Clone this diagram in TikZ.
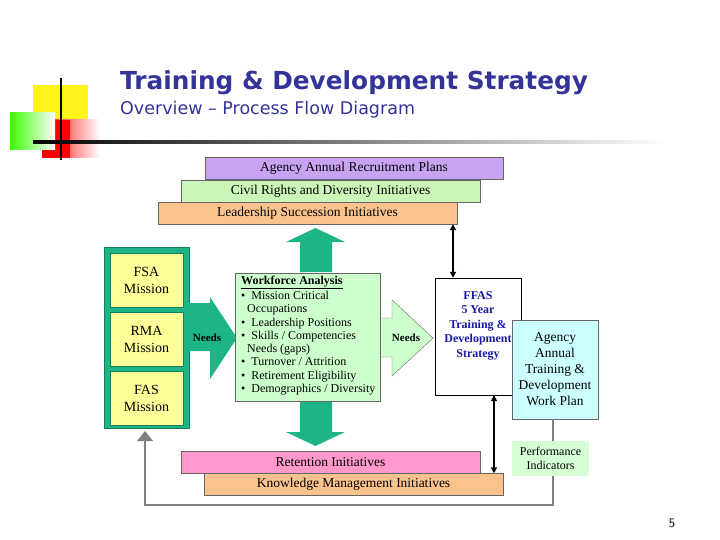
\documentclass[tikz,border=0pt]{standalone}
\usepackage{fontspec}
\setmainfont{Liberation Serif}
\newfontfamily\titlefont{DejaVu Sans}
\usetikzlibrary{arrows.meta,shapes.arrows}
\definecolor{tblue}{HTML}{333399}
\definecolor{purp}{HTML}{C9A3F2}
\definecolor{lgreen}{HTML}{CCF5B8}
\definecolor{orng}{HTML}{FAC38E}
\definecolor{teal}{HTML}{1DB585}
\definecolor{yel}{HTML}{FFFF99}
\definecolor{wfgreen}{HTML}{CCFFCC}
\definecolor{pnk}{HTML}{FF99CC}
\definecolor{cyn}{HTML}{CCFFFF}
\definecolor{dblue}{HTML}{1A1AA6}
\tikzset{
 bar/.style={draw=black!60,minimum height=22pt,inner sep=0pt,font=\fontsize{13.5}{14}\selectfont},
 miss/.style={fill=yel,draw=teal!70!black,minimum width=73pt,minimum height=54pt,align=center,font=\fontsize{14}{17}\selectfont},
 dbl/.style={{Triangle[length=6pt,width=6pt]}-{Triangle[length=6pt,width=6pt]},line width=1.5pt},
}
\begin{document}
\begin{tikzpicture}[x=1pt,y=-1pt]
\useasboundingbox (0,0) rectangle (720,540);
% logo
\fill[yellow!90!white] (33,85) rectangle (88,140);
\shade[left color=red,right color=white] (42,120) rectangle (100,158);
\fill[red] (42,120) rectangle (70,158);
\shade[left color=green!70!lime,right color=white] (10,113) rectangle (55,150);
\draw[line width=1.5pt] (61,78) -- (61,160);
\shade[left color=black,right color=white] (33,141) rectangle (665,143.5);
\node[anchor=west,font=\titlefont\bfseries\fontsize{24.8}{27}\selectfont,text=tblue,inner sep=0] (title) at (120,83) {Training \& Development Strategy};
\node[anchor=west,font=\titlefont\fontsize{17.5}{19}\selectfont,text=tblue,inner sep=0] (sub) at (120,110) {Overview – Process Flow Diagram};
% top bars
\node[bar,fill=purp,minimum width=298pt] (recr) at (354,168.5) {Agency Annual Recruitment Plans};
\node[bar,fill=lgreen,minimum width=299pt] (civ) at (330.5,191) {Civil Rights and Diversity Initiatives};
\node[bar,fill=orng,minimum width=299pt] (lead) at (307.5,213) {Leadership Succession Initiatives};
% left container
\node[fill=teal,draw=teal!70!black,minimum width=85pt,minimum height=181pt,inner sep=0] (cont) at (146.5,337.5) {};
\node[miss] (fsa) at (146.5,280) {FSA\\Mission};
\node[miss] (rma) at (146.5,339) {RMA\\Mission};
\node[miss] (fas) at (146.5,398) {FAS\\Mission};
% arrows
\fill[teal] (189,303) -- (210,303) -- (210,297) -- (237,338) -- (210,379) -- (210,351) -- (189,351) -- cycle;
\node[font=\bfseries\fontsize{11}{12}\selectfont] (n1) at (207,338) {Needs};
\fill[teal] (300,272) -- (300,242) -- (286,242) -- (315.5,228) -- (345,242) -- (332,242) -- (332,272) -- cycle;
\fill[teal] (300,401) -- (300,432) -- (286,432) -- (315.5,446) -- (345,432) -- (332,432) -- (332,401) -- cycle;
\draw[fill=wfgreen,draw=black!60] (380,318) -- (392,318) -- (392,300) -- (433,338) -- (392,376) -- (392,357) -- (380,357) -- cycle;
\node[font=\bfseries\fontsize{11}{12}\selectfont] (n2) at (406,338) {Needs};
% workforce
\node[fill=wfgreen,draw=black!60,minimum width=145pt,minimum height=128pt,inner sep=0] (wf) at (307.5,337) {};
\node[anchor=north west,inner sep=0,align=left,font=\fontsize{12}{13.3}\selectfont] (wft) at (241,276) {\textbf{\underline{Workforce Analysis}}\\[1.5pt]
• \ Mission Critical\\ \ \ Occupations\\• \ Leadership Positions\\• \ Skills / Competencies\\ \ \ Needs (gaps)\\• \ Turnover / Attrition\\• \ Retirement Eligibility\\• \ Demographics / Diversity};
% bottom bars
\node[bar,fill=pnk,minimum width=299pt] (ret) at (330.5,462) {Retention Initiatives};
\node[bar,fill=orng,minimum width=299pt] (km) at (353.5,484.5) {Knowledge Management Initiatives};
% FFAS
\node[fill=white,draw=black,minimum width=86pt,minimum height=117pt,align=center,text=dblue,font=\bfseries\fontsize{12}{14.5}\selectfont,inner sep=0] (ffas) at (478,336.5) {FFAS\\5 Year\\Training \&\\Development\\Strategy\\[10pt]};
\node[fill=cyn,draw=black!60,minimum width=86pt,minimum height=99pt,align=center,font=\fontsize{13.5}{16}\selectfont,inner sep=0] (agency) at (555,369.5) {Agency\\Annual\\Training \&\\Development\\Work Plan};
\coordinate (g1) at (553,505);
\coordinate (g2) at (145,505);
\draw[line width=2pt,black!50] (agency.south -| g1) -- (g1) -- (g2) -- (145,433);
\fill[black!50] (145,431) -- (137,441) -- (153,441) -- cycle;
\node[fill=wfgreen!80!white,minimum width=77pt,minimum height=35pt,align=center,font=\fontsize{12}{14}\selectfont,inner sep=0] (perf) at (550.5,458.5) {Performance\\Indicators};
\draw[dbl] (lead.south -| 453,0) -- (ffas.north -| 453,0);
\draw[dbl] (ffas.south -| 494,0) -- (km.north -| 494,0);
\node[font=\sffamily\fontsize{13}{14}\selectfont] (pg) at (672,523) {5};
\end{tikzpicture}
\end{document}
